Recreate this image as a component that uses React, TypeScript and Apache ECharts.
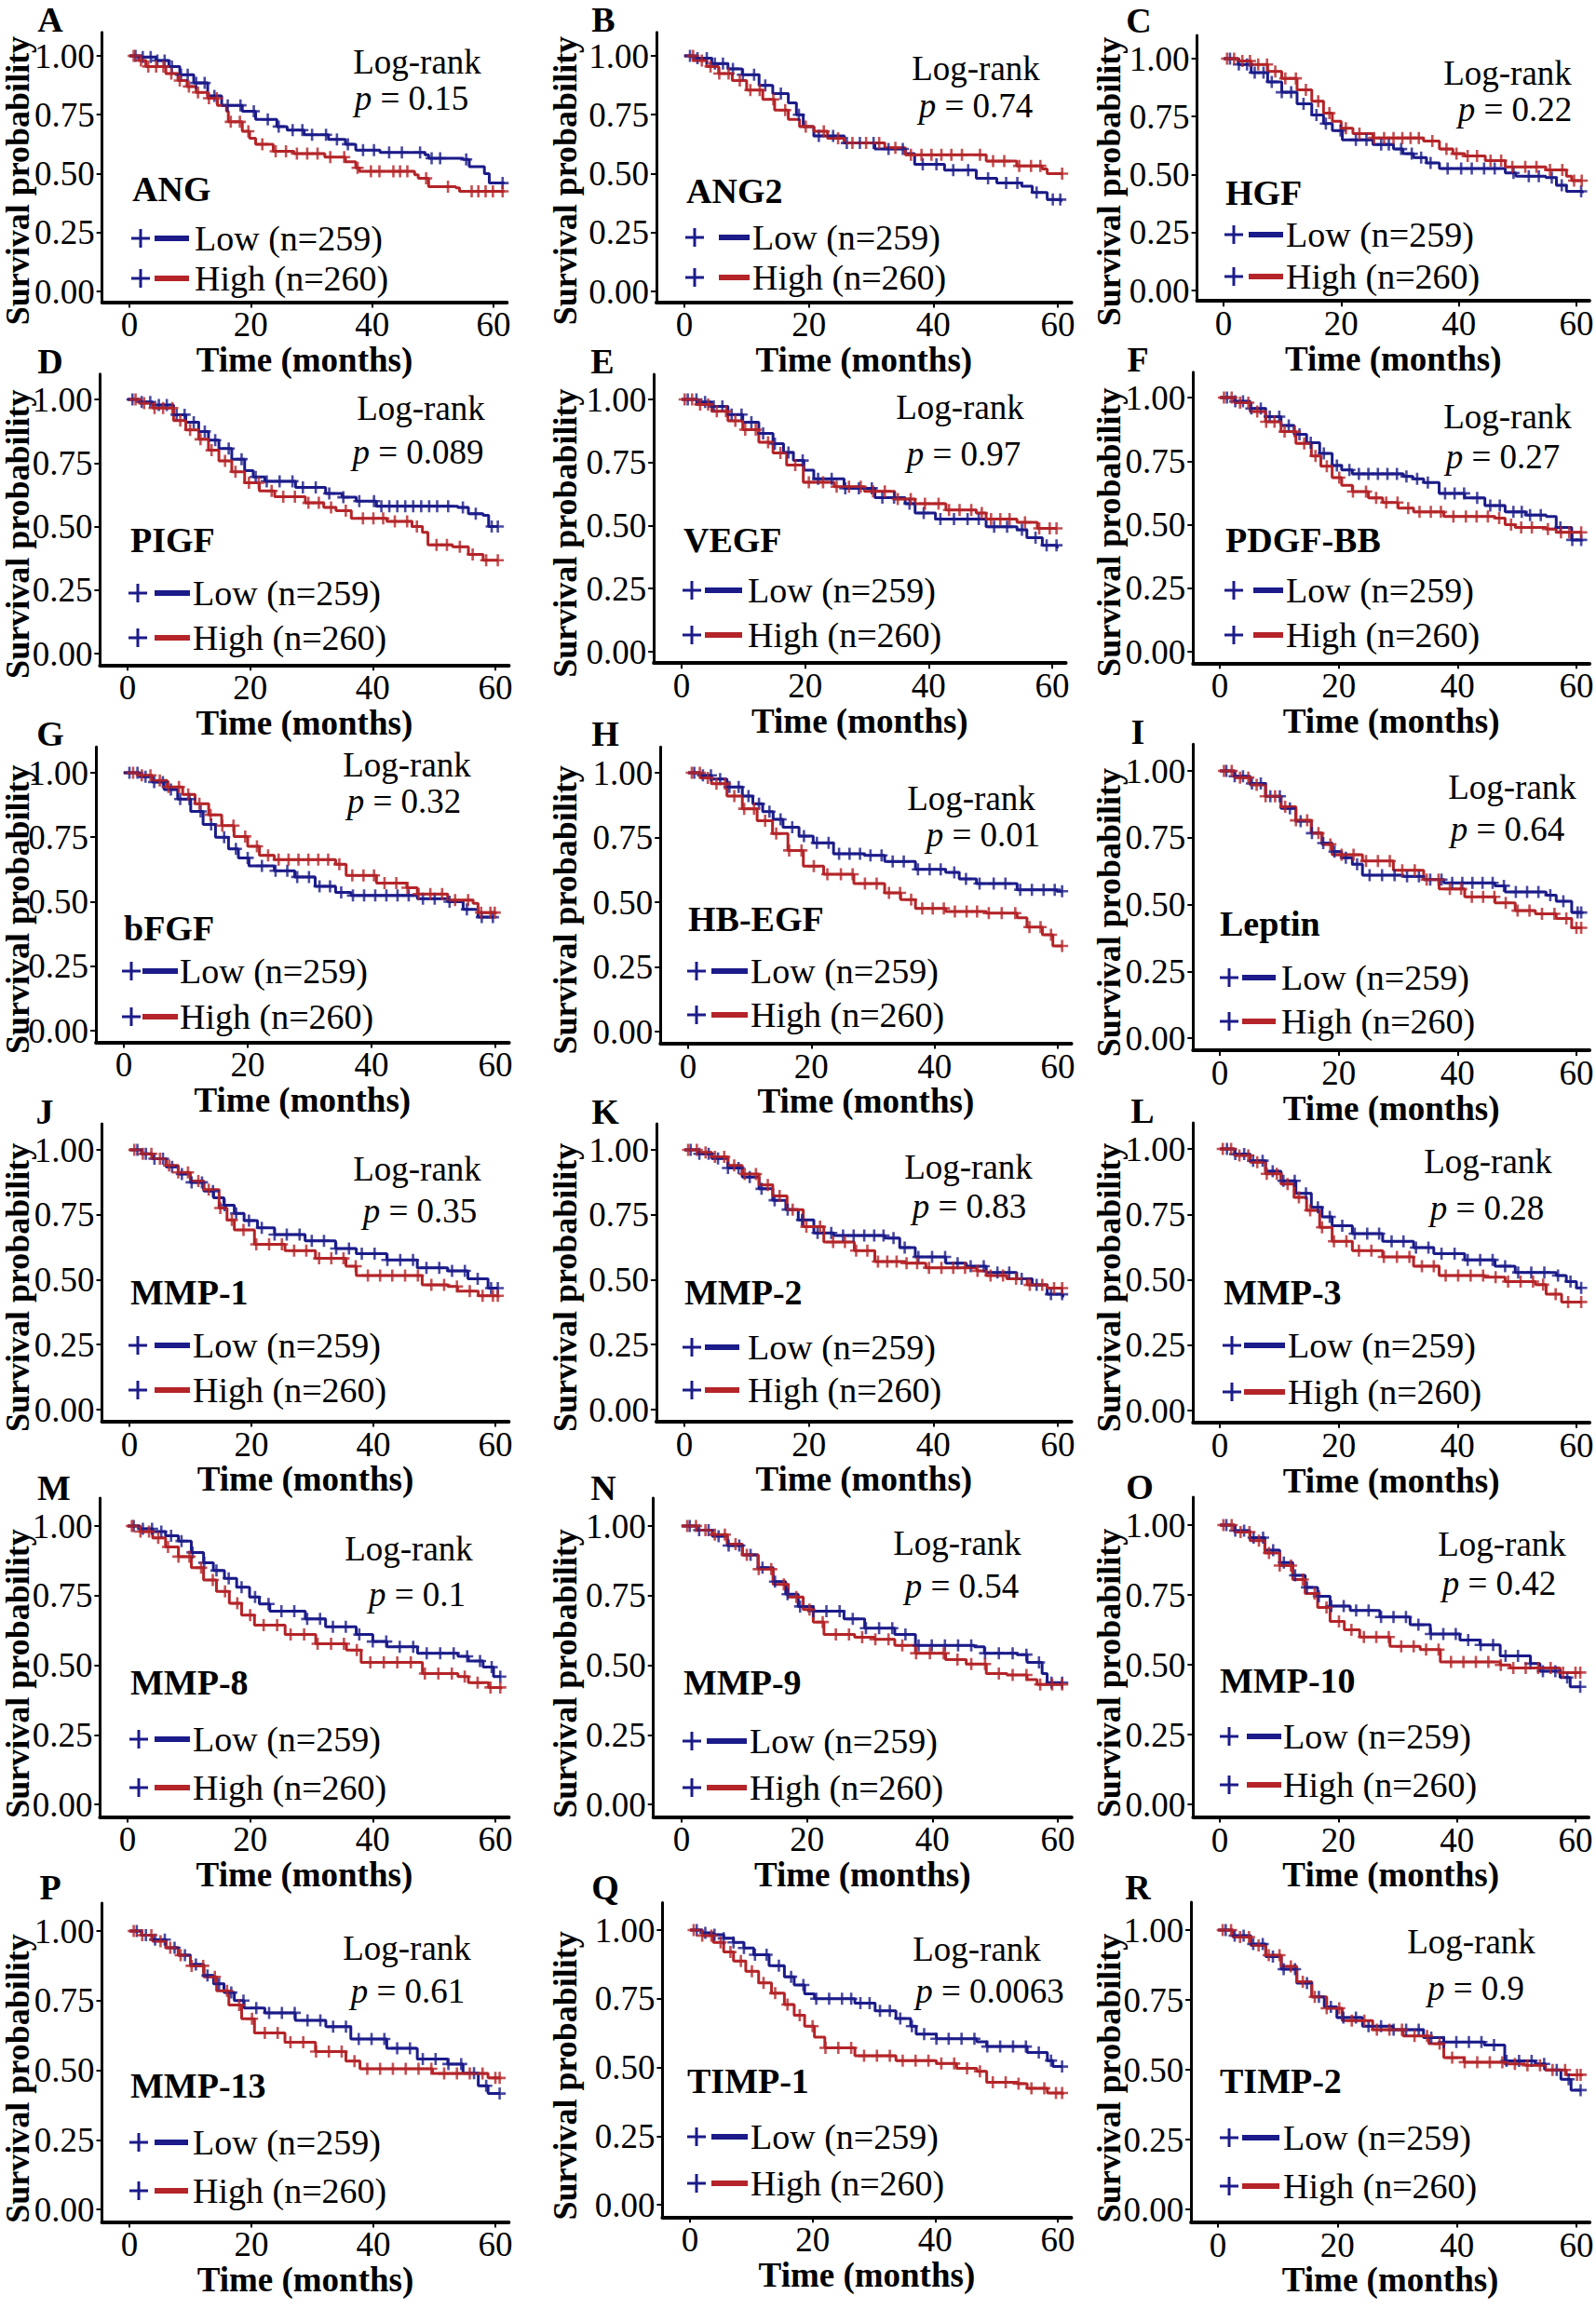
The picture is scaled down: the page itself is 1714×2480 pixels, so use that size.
import React, { useEffect, useRef } from "react";
import * as echarts from "echarts";

type Pt = [number, number];

// ---------- curve data (time in months, survival probability) ----------
const ANG_LOW: Pt[] = [[0,1],[2,0.995],[4.4,0.98],[6.5,0.955],[8.3,0.92],[10.6,0.885],[12.9,0.83],[15.2,0.79],[18.6,0.765],[20.8,0.73],[24.3,0.7],[26,0.685],[28.8,0.665],[32.8,0.645],[35.6,0.625],[37.3,0.6],[41.3,0.59],[48.7,0.58],[49.3,0.565],[55,0.56],[56,0.53],[58.5,0.5],[59.3,0.46],[61.8,0.46]];
const ANG_HIGH: Pt[] = [[0,1],[1.5,0.98],[2.7,0.955],[6,0.925],[8,0.895],[9.5,0.87],[11,0.845],[12.9,0.82],[14.5,0.79],[16,0.765],[16.3,0.72],[18.6,0.68],[19.8,0.65],[20.8,0.625],[23.7,0.595],[27.1,0.585],[32.2,0.57],[35.6,0.55],[37.3,0.525],[37.9,0.51],[47,0.495],[47.6,0.48],[49.3,0.445],[53.8,0.44],[54.4,0.425],[61.8,0.425]];
const ANG2_LOW: Pt[] = [[0,1],[2,0.99],[4.4,0.967],[7,0.945],[9.3,0.92],[12,0.875],[14.2,0.84],[16.7,0.8],[18,0.75],[19.1,0.7],[20.8,0.66],[25.7,0.63],[30.6,0.605],[35.5,0.585],[37,0.54],[41.8,0.515],[46.9,0.48],[50.2,0.46],[54.2,0.447],[55.9,0.42],[58.3,0.39],[60.5,0.38]];
const ANG2_HIGH: Pt[] = [[0,1],[1.5,0.98],[3.6,0.955],[5.5,0.925],[7.7,0.895],[10,0.855],[12.6,0.815],[14.5,0.77],[16.7,0.73],[18.5,0.7],[20.8,0.68],[23,0.65],[25.7,0.63],[32.2,0.61],[35.5,0.58],[48.5,0.553],[53.4,0.533],[57.5,0.52],[58.3,0.5],[60.8,0.5]];
const HGF_LOW: Pt[] = [[0,1],[2.5,0.975],[4.7,0.94],[7.5,0.9],[9.9,0.855],[12.5,0.805],[15,0.757],[17,0.72],[18.5,0.69],[20.2,0.65],[25.4,0.63],[28.9,0.61],[30.5,0.59],[32.3,0.573],[34.5,0.55],[36.7,0.526],[47.9,0.507],[49.7,0.493],[54.8,0.487],[56.6,0.454],[58.3,0.428],[61,0.42]];
const HGF_HIGH: Pt[] = [[0,1],[2.5,0.99],[4.7,0.975],[7.5,0.945],[9.9,0.915],[12.5,0.865],[15,0.816],[17,0.765],[18.5,0.73],[20,0.7],[22,0.677],[25.4,0.658],[34,0.645],[36.7,0.61],[39,0.59],[41,0.58],[44.5,0.56],[47.9,0.533],[54.8,0.52],[58.3,0.493],[59.2,0.474],[61,0.474]];
const PIGF_LOW: Pt[] = [[0,1],[2,0.99],[4.1,0.978],[7.5,0.94],[9.5,0.91],[11.6,0.874],[13.2,0.84],[14.9,0.807],[17,0.765],[19.1,0.72],[20.5,0.695],[22.4,0.678],[27.4,0.654],[32.3,0.63],[35,0.615],[37.3,0.6],[40.6,0.58],[53.9,0.575],[55.6,0.55],[58,0.544],[58.9,0.5],[60.5,0.5]];
const PIGF_HIGH: Pt[] = [[0,1],[2,0.985],[4.1,0.966],[7.5,0.917],[9.5,0.88],[11.6,0.843],[13.2,0.8],[14.9,0.758],[17,0.715],[19.1,0.672],[21.5,0.64],[24,0.617],[29,0.593],[32,0.575],[34,0.562],[36.5,0.532],[42.3,0.52],[46.4,0.5],[48.1,0.477],[49,0.428],[53,0.42],[55.6,0.39],[58,0.367],[60.5,0.367]];
const VEGF_LOW: Pt[] = [[0,1],[2.5,0.99],[4.9,0.972],[7.5,0.94],[9.9,0.91],[12.5,0.865],[14.8,0.825],[16.5,0.79],[18.1,0.758],[19.8,0.72],[21.4,0.685],[26.3,0.648],[31.3,0.611],[36.2,0.587],[37.8,0.55],[41.1,0.526],[49.3,0.495],[54.3,0.483],[55.9,0.452],[58.4,0.422],[60.8,0.41]];
const VEGF_HIGH: Pt[] = [[0,1],[2.5,0.98],[4.9,0.953],[7.5,0.915],[9.9,0.88],[12.5,0.83],[14.8,0.788],[17,0.74],[19.7,0.672],[24.7,0.654],[29.6,0.636],[34.5,0.605],[37.8,0.587],[42.8,0.562],[47.7,0.55],[49.3,0.526],[54.3,0.513],[57.6,0.489],[60.8,0.489]];
const PDGF_LOW: Pt[] = [[0,1],[2.5,0.985],[5.1,0.957],[7.7,0.925],[10.3,0.89],[12.5,0.855],[14.6,0.822],[16.8,0.78],[18.9,0.733],[20.5,0.715],[22.3,0.7],[30.9,0.69],[32.5,0.68],[34.3,0.666],[36.9,0.623],[41.2,0.605],[44.6,0.575],[48,0.55],[51.5,0.538],[54.9,0.532],[56.6,0.489],[59.2,0.44],[60.9,0.434]];
const PDGF_HIGH: Pt[] = [[0,1],[2.5,0.98],[5.1,0.945],[7.7,0.905],[10.3,0.866],[12.8,0.82],[15.4,0.77],[17,0.73],[18.9,0.685],[20.5,0.655],[22.3,0.63],[25,0.605],[27.4,0.587],[30,0.565],[32.6,0.55],[37.7,0.532],[46.3,0.526],[48,0.5],[49.7,0.489],[54.9,0.483],[56.6,0.47],[60.9,0.47]];
const BFGF_LOW: Pt[] = [[0,1],[2.5,0.985],[4.6,0.964],[6.5,0.935],[8.7,0.898],[10.8,0.85],[12.8,0.8],[14.8,0.75],[16.9,0.705],[18.5,0.67],[20.2,0.639],[24.3,0.62],[27.6,0.596],[30.9,0.56],[34.2,0.536],[36.7,0.524],[47.4,0.512],[52.3,0.5],[54.8,0.47],[57.2,0.44],[59.7,0.44]];
const BFGF_HIGH: Pt[] = [[0,1],[2.5,0.99],[4.6,0.97],[7,0.945],[9.5,0.916],[11.5,0.88],[13.7,0.837],[15.8,0.795],[17.8,0.753],[20,0.715],[21.9,0.68],[24.3,0.663],[34.2,0.645],[35.9,0.602],[40.8,0.572],[45.7,0.554],[47.4,0.53],[52.3,0.506],[56.4,0.494],[57.2,0.458],[60,0.452]];
const HBEGF_LOW: Pt[] = [[0,1],[2,0.99],[3.8,0.976],[6.3,0.945],[8.8,0.91],[10.5,0.88],[12.1,0.85],[13.8,0.82],[15.4,0.79],[18,0.755],[20.3,0.729],[23.6,0.687],[28.6,0.681],[31.9,0.657],[36.9,0.627],[41.8,0.615],[44,0.59],[46.8,0.572],[53.4,0.548],[59.9,0.542],[60.8,0.542]];
const HBEGF_HIGH: Pt[] = [[0,1],[2,0.98],[3.8,0.958],[6.3,0.91],[8.8,0.861],[11.2,0.815],[13.7,0.765],[16.2,0.7],[18.7,0.639],[22,0.608],[26.9,0.572],[31.9,0.536],[34.5,0.51],[36.9,0.476],[41.8,0.464],[48.4,0.458],[53.4,0.44],[55,0.404],[57.5,0.374],[59.2,0.331],[60.8,0.331]];
const LEPTIN_LOW: Pt[] = [[0,1],[2.5,0.98],[5.1,0.953],[7.7,0.905],[10.3,0.86],[12.8,0.812],[15.4,0.767],[17.2,0.73],[18.9,0.698],[20.5,0.675],[22.3,0.651],[24,0.61],[30.9,0.605],[34.3,0.593],[37.7,0.581],[46.3,0.57],[48,0.547],[54.9,0.535],[56.6,0.512],[59.2,0.47],[60.9,0.47]];
const LEPTIN_HIGH: Pt[] = [[0,1],[2.5,0.975],[5.1,0.948],[7.7,0.905],[10.3,0.866],[12.8,0.815],[15.4,0.767],[17.2,0.725],[18.9,0.686],[24,0.663],[29.2,0.628],[34.3,0.593],[36.9,0.558],[41.2,0.529],[46.3,0.506],[49.7,0.477],[53.1,0.465],[56.6,0.448],[59.2,0.413],[60.9,0.413]];
const MMP1_LOW: Pt[] = [[0,1],[2,0.985],[3.8,0.966],[6,0.935],[8,0.907],[10,0.875],[12.2,0.841],[13.8,0.815],[15.5,0.787],[17.2,0.755],[18.8,0.728],[21,0.7],[23.8,0.674],[28.8,0.65],[33.8,0.62],[37.2,0.6],[42.2,0.576],[47.2,0.546],[52.2,0.534],[55.5,0.504],[58.8,0.468],[60.5,0.468]];
const MMP1_HIGH: Pt[] = [[0,1],[2,0.985],[3.8,0.966],[6,0.94],[8,0.913],[10,0.88],[12.2,0.847],[14.7,0.776],[16,0.73],[17.2,0.692],[20.5,0.636],[25.5,0.612],[30.5,0.582],[35.5,0.552],[37.2,0.516],[48,0.48],[52.2,0.474],[53.8,0.456],[57.2,0.438],[60.5,0.432]];
const MMP2_LOW: Pt[] = [[0,1],[2.2,0.985],[4.4,0.967],[7,0.93],[9.3,0.895],[12,0.85],[14.2,0.806],[16.3,0.77],[18.3,0.73],[20.8,0.68],[24,0.67],[32.2,0.66],[34.6,0.624],[37.1,0.588],[42,0.564],[45.3,0.552],[48.5,0.528],[53.4,0.504],[55.9,0.48],[58.3,0.444],[60.8,0.432]];
const MMP2_HIGH: Pt[] = [[0,1],[2.2,0.99],[4.4,0.973],[7,0.94],[9.3,0.907],[12,0.865],[14.2,0.823],[16.5,0.77],[19.1,0.704],[22.4,0.645],[27.3,0.612],[30.6,0.57],[35.5,0.564],[38.8,0.546],[47,0.534],[48.5,0.516],[51.8,0.504],[55.1,0.48],[58.3,0.468],[60.8,0.468]];
const MMP3_LOW: Pt[] = [[0,1],[2.5,0.98],[5.1,0.955],[7.7,0.915],[10.3,0.878],[12.8,0.83],[15.4,0.777],[17.2,0.74],[18.9,0.706],[22.3,0.676],[27.4,0.647],[32.6,0.623],[36,0.6],[41.2,0.576],[46.3,0.552],[49.7,0.528],[56.6,0.516],[58.3,0.493],[60,0.469],[60.9,0.469]];
const MMP3_HIGH: Pt[] = [[0,1],[2.5,0.975],[5.1,0.949],[7.7,0.905],[10.3,0.866],[12.5,0.815],[14.6,0.765],[16.8,0.7],[18.9,0.647],[22.3,0.611],[27.4,0.587],[32.6,0.552],[36.9,0.516],[44.6,0.51],[48,0.493],[53.1,0.481],[54.9,0.445],[57.5,0.415],[60.9,0.415]];
const MMP8_LOW: Pt[] = [[0,1],[2,0.99],[4.1,0.98],[6.2,0.965],[8.3,0.946],[10.4,0.905],[12.4,0.868],[14,0.84],[15.8,0.812],[17.8,0.78],[19.9,0.745],[21.5,0.72],[23.2,0.694],[29,0.666],[32.3,0.638],[37.3,0.61],[40,0.585],[42.3,0.566],[47.3,0.543],[53.9,0.532],[55.6,0.515],[58,0.493],[59.7,0.459],[60.9,0.459]];
const MMP8_HIGH: Pt[] = [[0,1],[2,0.98],[4.1,0.957],[6.2,0.925],[8.3,0.89],[10.4,0.85],[12.4,0.806],[14.5,0.765],[16.6,0.722],[18.6,0.68],[20.7,0.644],[25.7,0.61],[30.7,0.577],[35.7,0.554],[38.1,0.51],[48.1,0.47],[53.9,0.459],[55.6,0.437],[58.9,0.42],[60.9,0.414]];
const MMP9_LOW: Pt[] = [[0,1],[2.5,0.985],[4.9,0.963],[7.3,0.93],[9.7,0.896],[12.2,0.85],[14.6,0.8],[16.6,0.755],[18.6,0.711],[21,0.694],[25.9,0.666],[29.2,0.633],[34,0.61],[37.3,0.571],[46.7,0.566],[48.3,0.543],[53.5,0.538],[55.1,0.51],[57.5,0.47],[58.3,0.437],[60.8,0.437]];
const MMP9_HIGH: Pt[] = [[0,1],[2.5,0.985],[4.9,0.969],[7.3,0.935],[9.7,0.896],[12.2,0.845],[14.6,0.79],[17,0.745],[19.4,0.7],[21,0.655],[22.7,0.61],[27.6,0.6],[30.8,0.593],[34,0.571],[37.3,0.543],[42.1,0.52],[45.4,0.504],[48.6,0.47],[51.9,0.465],[55.1,0.448],[56.7,0.431],[60.8,0.431]];
const MMP10_LOW: Pt[] = [[0,1],[2.5,0.98],[5.1,0.955],[7.6,0.91],[10.1,0.866],[12.3,0.82],[14.4,0.777],[16.5,0.745],[18.6,0.71],[22,0.694],[27,0.671],[32.1,0.643],[35.5,0.61],[40.5,0.588],[43.9,0.571],[47.3,0.532],[52.4,0.504],[54,0.477],[57.4,0.454],[59.1,0.421],[60.9,0.421]];
const MMP10_HIGH: Pt[] = [[0,1],[2.5,0.975],[5.1,0.944],[7.6,0.9],[10.1,0.855],[12.3,0.805],[14.4,0.755],[16.5,0.705],[18.6,0.655],[21,0.625],[23.6,0.599],[28.7,0.566],[33.8,0.554],[37.2,0.51],[47.3,0.499],[49,0.488],[57.4,0.472],[60.9,0.472]];
const MMP13_LOW: Pt[] = [[0,1],[2,0.985],[3.8,0.969],[6,0.94],[8,0.913],[10,0.88],[12.2,0.84],[13.8,0.81],[15.5,0.779],[17.2,0.75],[18.8,0.723],[22.2,0.706],[27.2,0.679],[32.2,0.656],[36.3,0.612],[42.2,0.579],[47.2,0.54],[52.2,0.522],[54.7,0.489],[57.2,0.444],[58.8,0.416],[60.8,0.416]];
const MMP13_HIGH: Pt[] = [[0,1],[2,0.985],[3.8,0.963],[6,0.94],[8,0.913],[10,0.875],[12.2,0.835],[14.3,0.785],[16.3,0.734],[18.4,0.685],[20.5,0.634],[25.5,0.6],[30.5,0.567],[35.5,0.533],[37.8,0.505],[49.7,0.488],[58.8,0.472],[60.8,0.472]];
const TIMP1_LOW: Pt[] = [[0,1],[2,0.99],[3.8,0.983],[5.5,0.97],[7.1,0.955],[8.8,0.935],[10.4,0.91],[12.9,0.87],[15.4,0.83],[17,0.8],[18.7,0.768],[20.3,0.75],[26.9,0.734],[30.2,0.706],[33.6,0.678],[36,0.65],[36.9,0.621],[40.2,0.604],[46.8,0.593],[48.4,0.576],[55,0.554],[58.3,0.525],[59.2,0.503],[60.8,0.503]];
const TIMP1_HIGH: Pt[] = [[0,1],[2,0.98],[3.8,0.955],[5.5,0.92],[7.1,0.887],[9.1,0.85],[11.2,0.808],[13.3,0.77],[15.4,0.729],[17,0.69],[18.7,0.65],[20.3,0.61],[22,0.571],[26.9,0.542],[33.6,0.525],[40.2,0.514],[43.5,0.497],[46.8,0.486],[48.4,0.446],[53.4,0.441],[55,0.424],[58.3,0.407],[60.8,0.401]];
const TIMP2_LOW: Pt[] = [[0,1],[2.5,0.98],[5.5,0.95],[8,0.905],[10.6,0.86],[13.2,0.81],[15.7,0.761],[17.8,0.725],[19.9,0.687],[24.2,0.656],[29.3,0.643],[34.4,0.615],[37.8,0.599],[44.6,0.588],[48,0.532],[53.1,0.521],[54.8,0.499],[57.4,0.466],[59.1,0.427],[60.8,0.427]];
const TIMP2_HIGH: Pt[] = [[0,1],[2.5,0.975],[5.5,0.945],[8,0.91],[10.6,0.87],[13.2,0.815],[15.7,0.761],[18.2,0.72],[20.8,0.676],[25.9,0.643],[31,0.621],[35.3,0.593],[37.8,0.543],[41.2,0.527],[48,0.521],[51.4,0.516],[54.8,0.499],[58.3,0.482],[60.8,0.477]];

// ---------- censoring times (months) ----------
const ANG_LOW_C = [1,2.2,3.5,4.6,5.8,7,8.5,9.6,11,12.4,14,16.2,18.3,20.5,22.8,24.6,26.9,28.5,30.1,32.4,34.2,36,38.5,40.3,42.8,44.9,47.9,49.8,51.2,55.5,61.5];
const ANG_HIGH_C = [0.7,1.9,3.1,4.4,5.6,6.9,8.3,9.8,11.3,13.1,14.4,16.7,18.2,19.6,21.9,24.1,25.8,27.6,29.3,31,33.1,35.4,37.6,39.8,41.2,43.5,44.6,45.8,48.9,52.5,56.4,57.5,58.7,59.9,61.5];
const ANG2_LOW_C = [0.9,2.1,3.6,4.9,6.2,7.8,9.4,11.2,13,15.5,18.4,21.6,23.9,26.1,28.2,30.4,32.8,35.1,38.3,40.5,43.2,45.6,48.8,51.7,53.5,56.6,59.2,60.4];
const ANG2_HIGH_C = [1.4,2.8,4.2,5.6,7.1,8.9,10.6,12.1,14.3,16.2,19.5,22.4,24.7,27,29.2,31.3,33.9,36.4,38.1,39.7,41.3,42.9,44.6,47.5,49.6,51.4,53.8,55.7,57.2,60.7];
const HGF_LOW_C = [1.1,2.6,4,5.3,6.8,8.2,9.9,11.5,13.6,15.8,17.4,19.9,22.5,24.3,26.8,28.1,30.2,32,33.6,35.2,38.1,40.4,42.2,44.3,46.1,49.3,51.9,53.6,55.8,57.5,60.8];
const HGF_HIGH_C = [0.6,1.8,3.2,4.5,5.9,7.4,8.8,10.5,12.3,14,16.1,18,20.8,23.1,25.6,27.3,28.9,30.4,31.8,33.2,35.5,37.9,39.6,41.5,43.1,45.4,47.2,49.1,51.3,53.2,55.5,57.6,59.6,60.9];
const PIGF_LOW_C = [0.8,2.3,3.7,5.1,6.4,8,9.3,10.8,12.6,14.3,16.5,18.6,20.9,22.7,24.8,26.9,28.6,30.7,32.9,35.2,37.8,40.2,41.4,42.7,44,45.3,46.6,47.9,49.2,50.5,52.3,54.7,56.8,59.4,60.4];
const PIGF_HIGH_C = [1.3,2.7,4.4,5.8,7.3,8.6,10.2,11.9,13.7,15.9,17.6,19.8,21.4,23.5,25.4,27.3,29.5,31.2,33.2,35.6,38.4,40.1,41.7,43.6,45.6,47.2,50.4,52.1,54.2,56.3,58.5,60.4];
const VEGF_LOW_C = [1,2.4,3.8,5.2,6.6,8.1,9.7,11.3,13.2,15.1,17.3,19.6,22.1,24.3,26.5,28.7,30.8,32.5,34.4,36.9,39.2,41.9,44.1,46.3,48.1,50.6,52.7,55.1,57.3,59.1,60.7];
const VEGF_HIGH_C = [0.5,1.7,3,4.3,5.7,7.2,8.7,10.3,12,14,16,18.4,20.6,22.9,25.1,27.1,29,31,32.9,35,37.1,39.4,41.6,43.3,45,46.9,48.6,50.1,51.6,53.1,55.6,57.9,59.6,60.7];
const PDGF_LOW_C = [1.2,2.6,3.9,5.3,6.9,8.4,10,11.6,13.4,15.3,17.5,19.7,21.8,23.4,25,26.6,28.2,29.8,31.4,33.2,35,37.9,39.5,41.1,43.3,45.5,47.1,49.4,50.8,52.2,54,57.3,59.3,60.8];
const PDGF_HIGH_C = [0.7,2,3.4,4.8,6.3,7.8,9.2,10.9,12.6,14.2,16.1,18,20.1,22.4,24.6,26.3,28,29.9,31.7,33.6,35.5,37.2,39.3,41.4,43.2,45.1,47,49,50.7,52.5,55.2,57.4,58.8,60.8];
const BFGF_LOW_C = [0.9,2.2,3.5,4.9,6.3,7.6,9.1,10.6,12.4,14.1,16.2,18.1,20,22.3,24.5,26.4,28,29.9,31.6,33.3,35.1,37,38.8,40.6,42.4,44.2,46,48.3,50.2,52.6,55.4,57.8,59.6];
const BFGF_HIGH_C = [1.5,2.9,4.3,5.8,7.2,8.9,10.4,12.2,14,15.9,17.7,19.6,21.5,23.3,25,26.6,28.2,29.8,31.4,33,34.8,36.9,38.7,40.4,42.1,44,45.8,47.6,49.5,51.4,53.5,55.6,57.7,59.2,59.9];
const HBEGF_LOW_C = [1,2.4,3.7,5.2,6.7,8.2,9.8,11.5,13.2,15,16.9,18.8,20.9,22.8,24.5,26.2,27.9,29.6,31.4,33.2,35,37.3,39.2,41,43.2,45.1,47.3,49.6,51.5,53.9,55.8,57.7,59.5,60.7];
const HBEGF_HIGH_C = [0.6,1.9,3.2,4.6,6,7.5,9.1,10.7,12.5,14.3,16.4,18.4,20.4,22.6,24.8,26.7,28.7,30.6,32.6,34.4,36.2,38,39.7,41.5,43.3,45.2,46.9,48.8,50.9,53.1,55.4,57.2,58.9,60.7];
const LEPTIN_LOW_C = [1.1,2.5,3.9,5.4,6.9,8.5,10.1,11.8,13.6,15.5,17.4,19.3,21.2,23.1,25.2,27.3,29.4,31.5,33.5,35.4,37.3,39.1,40.8,42.5,44.2,45.9,47.8,49.8,51.7,53.6,55.6,57.8,60.2,60.8];
const LEPTIN_HIGH_C = [0.7,2,3.4,4.8,6.2,7.7,9.3,11,12.8,14.7,16.6,18.6,20.5,22.5,24.6,26.6,28.6,30.7,32.8,34.8,36.8,38.7,40.6,42.4,44.3,46.2,48.1,50.1,52.1,54.2,56.3,58.3,60,60.8];
const MMP1_LOW_C = [1.3,2.7,4.1,5.5,7,8.6,10.2,11.9,13.7,15.6,17.5,19.6,21.7,23.8,25.8,27.9,29.9,31.9,33.9,36,38.1,40.2,42.3,44.4,46.5,48.7,50.8,52.9,55,57.1,59.3,60.4];
const MMP1_HIGH_C = [0.8,2.2,3.6,5,6.5,8,9.6,11.3,13,14.9,16.8,18.7,20.8,22.9,25,27,29,31.1,33.1,35.1,37.1,39.1,41.1,43.1,45.2,47.3,49.5,51.6,53.7,55.8,57.9,59.6,60.4];
const MMP2_LOW_C = [1,2.4,3.9,5.4,7,8.7,10.5,12.4,14.5,16.6,18.9,21.4,23.6,25.5,27.2,28.9,30.5,32,33.6,35.4,37.6,39.8,41.9,43.9,46,48.1,50.3,52.2,54.2,56.6,58.9,60.7];
const MMP2_HIGH_C = [0.6,2,3.4,4.9,6.4,8,9.7,11.5,13.4,15.3,17.4,19.6,21.8,23.9,25.8,27.6,29.4,31.1,32.6,34.1,35.7,37.4,39.3,41.3,43.2,45.1,47.1,49.2,51.2,53.3,55.5,57.5,59.4,60.7];
const MMP3_LOW_C = [1.2,2.6,4.1,5.6,7.2,8.9,10.7,12.6,14.5,16.5,18.5,20.6,22.7,24.8,26.8,28.9,30.9,33,35.1,37.3,39.5,41.7,43.8,45.9,48,50.2,52.4,54.6,56.9,59,60.8];
const MMP3_HIGH_C = [0.5,1.9,3.3,4.8,6.3,7.9,9.6,11.4,13.3,15.2,17.2,19.2,21.3,23.4,25.5,27.6,29.8,31.9,34,36,38,40.1,42.2,44.3,46.4,48.5,50.6,52.7,54.4,56.5,58.6,60.8];
const MMP8_LOW_C = [1,2.5,4,5.5,7.1,8.8,10.6,12.5,14.5,16.5,18.6,20.8,23,25.1,27.2,29.3,31.4,33.5,35.6,37.8,40,42.2,44.4,46.6,48.8,51,53.2,55.4,57.5,59.4,60.8];
const MMP8_HIGH_C = [0.7,2.1,3.5,5,6.6,8.3,10.1,12,13.9,15.9,17.9,20,22.2,24.4,26.6,28.8,31,33.2,35.3,37.4,39.6,41.8,44,46.2,48.5,50.7,52.9,55,57.1,59.2,60.8];
const MMP9_LOW_C = [1.3,2.8,4.3,5.9,7.5,9.2,11,12.9,14.9,16.9,18.9,21,23.1,25.2,27.3,29.4,31.5,33.6,35.7,37.8,39.9,42,44.1,46.2,48.4,50.6,52.8,55,57,59,60.7];
const MMP9_HIGH_C = [0.9,2.3,3.8,5.3,6.9,8.6,10.4,12.3,14.3,16.3,18.3,20.4,22.5,24.6,26.7,28.8,30.9,33,35.2,37.4,39.6,41.8,44,46.2,48.4,50.6,52.8,55,57.2,59.1,60.7];
const MMP10_LOW_C = [1.1,2.6,4.1,5.7,7.3,9,10.8,12.7,14.7,16.7,18.8,20.9,23,25.1,27.2,29.3,31.4,33.5,35.6,37.7,39.8,41.9,44,46.1,48.2,50.3,52.4,54.5,56.6,58.6,60.8];
const MMP10_HIGH_C = [0.6,2,3.5,5,6.6,8.3,10.1,12,14,16,18,20.1,22.2,24.3,26.4,28.5,30.6,32.7,34.8,36.9,39,41.1,43.2,45.3,47.4,49.5,51.6,53.7,55.8,57.9,60,60.8];
const MMP13_LOW_C = [1.2,2.7,4.2,5.8,7.4,9.1,10.9,12.8,14.7,16.7,18.7,20.8,22.9,25,27.1,29.2,31.3,33.4,35.5,37.6,39.7,41.8,43.9,46,48.1,50.2,52.3,54.4,56.5,58.5,60.7];
const MMP13_HIGH_C = [0.7,2.1,3.6,5.1,6.7,8.4,10.2,12.1,14,16,18,20.1,22.2,24.3,26.4,28.5,30.6,32.7,34.8,36.9,39,41.1,43.2,45.3,47.4,49.5,51.6,53.7,55.8,57.9,60,60.7];
const TIMP1_LOW_C = [1.1,2.5,4,5.5,7.1,8.8,10.6,12.5,14.5,16.5,18.5,20.6,22.7,24.8,26.3,27.8,29.3,31,32.6,34.3,36.2,38.2,40.2,42.2,44.3,46.4,48.5,50.6,52.7,54.8,56.9,58.9,60.7];
const TIMP1_HIGH_C = [0.6,2,3.5,5,6.6,8.3,10.1,12,13.9,15.9,17.9,20,22.1,24.2,26.3,28.4,30.5,32.6,34.7,36.8,38.9,41,43.1,45.2,47.3,49.4,51.5,53.6,55.7,57.8,59.7,60.7];
const TIMP2_LOW_C = [1.3,2.8,4.3,5.9,7.5,9.2,11,12.9,14.9,16.9,18.9,21,23.1,25.2,27.3,29.4,31.5,33.6,35.7,37.8,39.9,42,44.1,46.2,48.3,50.4,52.5,54.6,56.7,58.7,60.7];
const TIMP2_HIGH_C = [0.8,2.2,3.7,5.2,6.8,8.5,10.3,12.2,14.2,16.2,18.2,20.3,22.4,24.5,26.6,28.7,30.8,32.9,35,37.1,39.2,41.3,43.4,45.5,47.6,49.7,51.8,53.9,56,58.1,60.1,60.7];

// ---------- labels ----------
const PANEL_LETTERS = ["A","B","C","D","E","F","G","H","I","J","K","L","M","N","O","P","Q","R"];
const GENES = ["ANG","ANG2","HGF","PIGF","VEGF","PDGF-BB","bFGF","HB-EGF","Leptin","MMP-1","MMP-2","MMP-3","MMP-8","MMP-9","MMP-10","MMP-13","TIMP-1","TIMP-2"];
const P_VALUES = ["0.15","0.74","0.22","0.089","0.97","0.27","0.32","0.01","0.64","0.35","0.83","0.28","0.1","0.54","0.42","0.61","0.0063","0.9"];
const LOW_CURVES = [ANG_LOW,ANG2_LOW,HGF_LOW,PIGF_LOW,VEGF_LOW,PDGF_LOW,BFGF_LOW,HBEGF_LOW,LEPTIN_LOW,MMP1_LOW,MMP2_LOW,MMP3_LOW,MMP8_LOW,MMP9_LOW,MMP10_LOW,MMP13_LOW,TIMP1_LOW,TIMP2_LOW];
const HIGH_CURVES = [ANG_HIGH,ANG2_HIGH,HGF_HIGH,PIGF_HIGH,VEGF_HIGH,PDGF_HIGH,BFGF_HIGH,HBEGF_HIGH,LEPTIN_HIGH,MMP1_HIGH,MMP2_HIGH,MMP3_HIGH,MMP8_HIGH,MMP9_HIGH,MMP10_HIGH,MMP13_HIGH,TIMP1_HIGH,TIMP2_HIGH];
const LOW_CENS = [ANG_LOW_C,ANG2_LOW_C,HGF_LOW_C,PIGF_LOW_C,VEGF_LOW_C,PDGF_LOW_C,BFGF_LOW_C,HBEGF_LOW_C,LEPTIN_LOW_C,MMP1_LOW_C,MMP2_LOW_C,MMP3_LOW_C,MMP8_LOW_C,MMP9_LOW_C,MMP10_LOW_C,MMP13_LOW_C,TIMP1_LOW_C,TIMP2_LOW_C];
const HIGH_CENS = [ANG_HIGH_C,ANG2_HIGH_C,HGF_HIGH_C,PIGF_HIGH_C,VEGF_HIGH_C,PDGF_HIGH_C,BFGF_HIGH_C,HBEGF_HIGH_C,LEPTIN_HIGH_C,MMP1_HIGH_C,MMP2_HIGH_C,MMP3_HIGH_C,MMP8_HIGH_C,MMP9_HIGH_C,MMP10_HIGH_C,MMP13_HIGH_C,TIMP1_HIGH_C,TIMP2_HIGH_C];
const LOW_LABEL = "Low (n=259)";
const HIGH_LABEL = "High (n=260)";
const X_TICKS = [0, 20, 40, 60];
const Y_TICKS = [0, 0.25, 0.5, 0.75, 1];

// ---------- layout (pixels) ----------
const LAYOUT = [
  { x0:139, x60:530, y1:60, y0:313, let:[54,21], lr:[448,66], pv:[442,105], gene:[142,203], plus:151, k1:166, k2:203, tx:209, lo:256, hi:299, yl:19 },
  { x0:735, x60:1136, y1:60, y0:313, let:[648,21], lr:[1048,73], pv:[1048,113], gene:[737,205], plus:746, k1:772, k2:805, tx:808, lo:255, hi:298, yl:607 },
  { x0:1314, x60:1693, y1:63, y0:312, let:[1223,22], lr:[1619,78], pv:[1627,117], gene:[1316,207], plus:1325, k1:1341, k2:1378, tx:1381, lo:252, hi:297, yl:1191 },
  { x0:137, x60:532, y1:429, y0:702, let:[54,388], lr:[452,438], pv:[449,485], gene:[140,580], plus:148, k1:166, k2:204, tx:207, lo:637, hi:685, yl:19 },
  { x0:732, x60:1130, y1:429, y0:700, let:[647,388], lr:[1031,437], pv:[1035,487], gene:[734,580], plus:743, k1:757, k2:797, tx:803, lo:634, hi:682, yl:607 },
  { x0:1310, x60:1693, y1:427, y0:700, let:[1222,386], lr:[1619,447], pv:[1614,490], gene:[1316,580], plus:1325, k1:1346, k2:1378, tx:1381, lo:634, hi:682, yl:1191 },
  { x0:133, x60:532, y1:830, y0:1107, let:[54,788], lr:[437,821], pv:[434,860], gene:[133,997], plus:141, k1:153, k2:191, tx:193, lo:1043, hi:1092, yl:19 },
  { x0:739, x60:1136, y1:830, y0:1108, let:[650,788], lr:[1043,857], pv:[1056,896], gene:[739,987], plus:748, k1:764, k2:803, tx:806, lo:1043, hi:1090, yl:607 },
  { x0:1310, x60:1693, y1:828, y0:1115, let:[1222,786], lr:[1624,845], pv:[1619,890], gene:[1310,992], plus:1320, k1:1334, k2:1370, tx:1376, lo:1050, hi:1097, yl:1191 },
  { x0:139, x60:532, y1:1235, y0:1514, let:[48,1194], lr:[448,1255], pv:[451,1300], gene:[140,1388], plus:148, k1:166, k2:204, tx:207, lo:1445, hi:1493, yl:19 },
  { x0:735, x60:1136, y1:1235, y0:1514, let:[650,1194], lr:[1040,1253], pv:[1041,1295], gene:[735,1388], plus:743, k1:757, k2:794, tx:803, lo:1447, hi:1493, yl:607 },
  { x0:1310, x60:1693, y1:1234, y0:1515, let:[1227,1193], lr:[1598,1247], pv:[1597,1297], gene:[1314,1388], plus:1323, k1:1336, k2:1380, tx:1383, lo:1445, hi:1495, yl:1191 },
  { x0:137, x60:532, y1:1639, y0:1938, let:[58,1598], lr:[439,1663], pv:[448,1712], gene:[140,1807], plus:149, k1:166, k2:204, tx:207, lo:1868, hi:1920, yl:19 },
  { x0:732, x60:1136, y1:1639, y0:1938, let:[648,1598], lr:[1028,1657], pv:[1033,1703], gene:[734,1807], plus:743, k1:759, k2:802, tx:805, lo:1870, hi:1920, yl:607 },
  { x0:1310, x60:1692, y1:1638, y0:1938, let:[1224,1597], lr:[1613,1658], pv:[1610,1700], gene:[1310,1805], plus:1320, k1:1339, k2:1376, tx:1378, lo:1865, hi:1917, yl:1191 },
  { x0:139, x60:532, y1:2074, y0:2373, let:[54,2027], lr:[437,2092], pv:[438,2138], gene:[140,2240], plus:149, k1:166, k2:202, tx:207, lo:2301, hi:2353, yl:19 },
  { x0:741, x60:1136, y1:2073, y0:2368, let:[650,2027], lr:[1049,2093], pv:[1063,2138], gene:[738,2235], plus:748, k1:764, k2:803, tx:806, lo:2295, hi:2345, yl:607 },
  { x0:1308, x60:1693, y1:2073, y0:2373, let:[1222,2027], lr:[1580,2085], pv:[1585,2135], gene:[1310,2235], plus:1320, k1:1334, k2:1374, tx:1378, lo:2296, hi:2348, yl:1191 },
];

const XMIN = -4.5, XMAX = 62.2, YMIN = -0.045, YMAX = 1.1;
const BLUE = "#1b1b8a";
const RED = "#b42428";
const FONT = '"Liberation Serif", "Times New Roman", serif';
const PLUS = "path://M4,0H6V4H10V6H6V10H4V6H0V4H4Z";

function stepAt(curve: Pt[], t: number): number {
  let s = curve[0][1];
  for (const [ti, si] of curve) {
    if (ti <= t) s = si; else break;
  }
  return s;
}

function buildOption() {
  const grid: any[] = [];
  const xAxis: any[] = [];
  const yAxis: any[] = [];
  const series: any[] = [];
  const graphic: any[] = [];

  LAYOUT.forEach((L, i) => {
    const k = (L.x60 - L.x0) / 60;
    const h = L.y0 - L.y1;
    grid.push({
      left: L.x0 + XMIN * k,
      width: (XMAX - XMIN) * k,
      top: L.y1 - (YMAX - 1) * h,
      height: (YMAX - YMIN) * h,
      containLabel: false,
      outerBoundsMode: "none",
    });
    xAxis.push({
      gridIndex: i, type: "value", min: XMIN, max: XMAX,
      axisLine: { show: true, onZero: false, lineStyle: { color: "#000", width: 4 } },
      axisTick: { show: true, customValues: X_TICKS, length: 6, lineStyle: { color: "#000", width: 2 } },
      axisLabel: { customValues: X_TICKS, fontSize: 37, fontFamily: FONT, color: "#000", margin: 6 },
      splitLine: { show: false },
      name: "Time (months)", nameLocation: "middle", nameGap: 41,
      nameTextStyle: { fontSize: 37, fontWeight: "bold", fontFamily: FONT, color: "#000" },
    });
    yAxis.push({
      gridIndex: i, type: "value", min: YMIN, max: YMAX,
      axisLine: { show: true, onZero: false, lineStyle: { color: "#000", width: 3 } },
      axisTick: { show: true, customValues: Y_TICKS, length: 6, lineStyle: { color: "#000", width: 2 } },
      axisLabel: { customValues: Y_TICKS, fontSize: 37, fontFamily: FONT, color: "#000", margin: 8,
        formatter: (v: number) => v.toFixed(2) },
      splitLine: { show: false },
    });
    const groups = [
      { curve: LOW_CURVES[i], cens: LOW_CENS[i], color: BLUE, name: LOW_LABEL },
      { curve: HIGH_CURVES[i], cens: HIGH_CENS[i], color: RED, name: HIGH_LABEL },
    ];
    groups.forEach((g) => {
      series.push({
        type: "line", name: g.name, xAxisIndex: i, yAxisIndex: i, step: "end",
        data: g.curve, showSymbol: false, symbol: "none",
        lineStyle: { color: g.color, width: 3 }, itemStyle: { color: g.color },
        silent: true, z: 3,
      });
      series.push({
        type: "scatter", name: g.name, xAxisIndex: i, yAxisIndex: i,
        data: g.cens.map((t) => [t, stepAt(g.curve, t)]),
        symbol: PLUS, symbolSize: 13, itemStyle: { color: g.color },
        silent: true, z: 4,
      });
    });

    graphic.push({ type: "text", x: L.let[0], y: L.let[1], silent: true,
      style: { text: PANEL_LETTERS[i], fill: "#000", fontSize: 38, fontWeight: "bold", fontFamily: FONT, align: "center", verticalAlign: "middle" } });
    graphic.push({ type: "text", x: L.yl, y: L.y1 + 0.53 * h, rotation: Math.PI / 2, silent: true,
      style: { text: "Survival probability", fill: "#000", fontSize: 36, fontWeight: "bold", fontFamily: FONT, align: "center", verticalAlign: "middle" } });
    graphic.push({ type: "text", x: L.lr[0], y: L.lr[1], silent: true,
      style: { text: "Log-rank", fill: "#000", fontSize: 37, fontFamily: FONT, align: "center", verticalAlign: "middle" } });
    graphic.push({ type: "text", x: L.pv[0], y: L.pv[1], silent: true,
      style: { text: "{i|p} = " + P_VALUES[i], fill: "#000", fontSize: 37, fontFamily: FONT, align: "center", verticalAlign: "middle",
        rich: { i: { fontStyle: "italic", fontSize: 37, fontFamily: FONT, fill: "#000" } } } });
    graphic.push({ type: "text", x: L.gene[0], y: L.gene[1], silent: true,
      style: { text: GENES[i], fill: "#000", fontSize: 38, fontWeight: "bold", fontFamily: FONT, align: "left", verticalAlign: "middle" } });

    [{ y: L.lo, color: BLUE, label: LOW_LABEL }, { y: L.hi, color: RED, label: HIGH_LABEL }].forEach((r) => {
      graphic.push({ type: "line", silent: true, shape: { x1: L.plus - 10, y1: r.y, x2: L.plus + 10, y2: r.y }, style: { stroke: BLUE, lineWidth: 3 } });
      graphic.push({ type: "line", silent: true, shape: { x1: L.plus, y1: r.y - 10, x2: L.plus, y2: r.y + 10 }, style: { stroke: BLUE, lineWidth: 3 } });
      graphic.push({ type: "line", silent: true, shape: { x1: L.k1, y1: r.y, x2: L.k2, y2: r.y }, style: { stroke: r.color, lineWidth: 6 } });
      graphic.push({ type: "text", x: L.tx, y: r.y, silent: true,
        style: { text: r.label, fill: "#000", fontSize: 38, fontFamily: FONT, align: "left", verticalAlign: "middle" } });
    });
  });

  return {
    animation: false,
    backgroundColor: "#ffffff",
    grid, xAxis, yAxis, series, graphic,
  };
}

export default function App() {
  const ref = useRef<HTMLDivElement>(null);
  useEffect(() => {
    document.body.style.margin = "0";
    if (!ref.current) return;
    const chart = echarts.init(ref.current, null, { renderer: "svg" });
    chart.setOption(buildOption() as any);
    return () => chart.dispose();
  }, []);
  return <div ref={ref} style={{ width: 1714, height: 2480, background: "#fff" }} />;
}
